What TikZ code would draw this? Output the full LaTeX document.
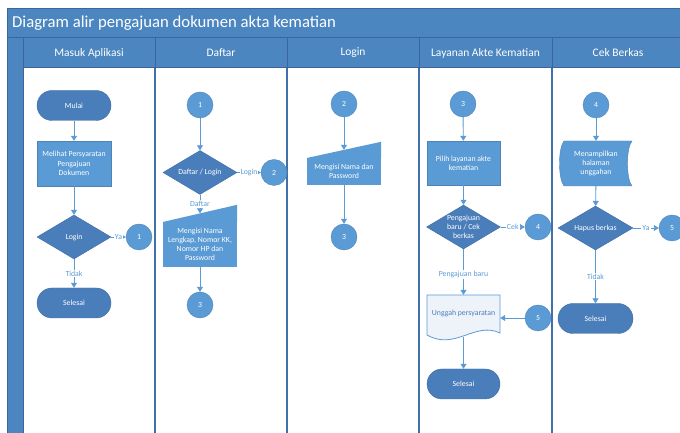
\documentclass[tikz,border=0pt]{standalone}
\usepackage{fontspec}
\setmainfont{Carlito}
\usetikzlibrary{arrows.meta,shapes.geometric}
\definecolor{hdr}{RGB}{76,134,192}
\definecolor{hdrline}{RGB}{58,102,156}
\definecolor{laneclr}{RGB}{66,112,170}
\definecolor{darkb}{RGB}{74,126,187}
\definecolor{lightb}{RGB}{91,155,213}
\definecolor{docfill}{RGB}{238,243,250}
\begin{document}
\begin{tikzpicture}[x=1pt,y=1pt,
  shapefont/.style={font=\fontsize{7.8}{9.2}\selectfont},
  term/.style={rectangle, rounded corners=15pt, fill=darkb, draw=darkb!85!black, line width=0.4pt,
    minimum width=74pt, minimum height=30pt, text=white, shapefont},
  proc/.style={rectangle, fill=lightb, draw=lightb!85!black, line width=0.4pt,
    minimum width=74pt, minimum height=45pt, text=white, align=center, shapefont, inner sep=2pt},
  manin/.style={proc, draw=none},
  dec/.style={diamond, fill=darkb, draw=darkb!85!black, line width=0.4pt,
    minimum width=74pt, minimum height=44pt, inner sep=0pt},
  dtext/.style={text=white, align=center, shapefont},
  conn/.style={circle, fill=lightb, draw=lightb!85!black, line width=0.4pt,
    minimum size=26pt, inner sep=0pt, text=white, shapefont},
  box/.style={rectangle, minimum width=74pt, inner sep=2pt, align=center, shapefont},
  arr/.style={draw=lightb, line width=0.9pt, -{Triangle[width=6pt,length=5pt]}},
  lbl/.style={fill=white, inner sep=1pt, text=lightb, font=\fontsize{7.8}{9}\selectfont},
  hdrtext/.style={text=white, font=\fontsize{11.5}{13}\selectfont},
  laneline/.style={draw=laneclr, line width=1.2pt}
]
\useasboundingbox (0,0) rectangle (680,433);
\clip (0,0) rectangle (680,433);
\fill[white] (0,0) rectangle (680,433);

% ---- swimlane frame ----
\foreach \x in {155,287,419,552} \draw[laneline] (\x,-5) -- (\x,365);
\fill[hdr] (7,-5) rectangle (23,395);
\fill[hdr] (7,395) rectangle (690,424);
\fill[hdr] (23,365) rectangle (690,395);
\draw[hdrline, line width=1pt] (7,-5) rectangle (690,424);
\draw[hdrline, line width=1pt] (7,395) -- (690,395);
\draw[hdrline, line width=1pt] (23,-5) -- (23,395);
\draw[hdrline, line width=1pt] (23,365) -- (690,365);
\foreach \x in {155,287,419,552} \draw[hdrline, line width=1pt] (\x,365) -- (\x,395);

\node[anchor=west, text=white, font=\fontsize{16.7}{19}\selectfont, inner sep=0pt] (title) at (12,410) {Diagram alir pengajuan dokumen akta kematian};
\node[hdrtext] (h1) at (89,380) {Masuk Aplikasi};
\node[hdrtext] (h2) at (221,380) {Daftar};
\node[hdrtext] (h3) at (353,380) {Login};
\node[hdrtext] (h4) at (485.5,380) {Layanan Akte Kematian};
\node[hdrtext] (h5) at (618,380) {Cek Berkas};

% ---- lane 1 ----
\node[term] (mulai) at (74,327.5) {Mulai};
\node[proc] (r1) at (74,269.5) {Melihat Persyaratan\\Pengajuan\\Dokumen};
\node[dec, label={[dtext]center:Login}] (d1) at (74,196) {};
\node[conn] (c1a) at (139,196) {1};
\node[term] (sel1) at (74,130) {Selesai};

% ---- lane 2 ----
\node[conn] (c1b) at (200,328) {1};
\node[dec, label={[dtext]center:Daftar / Login}] (d2) at (200,260.5) {};
\node[conn] (c2a) at (274,260.5) {2};
\node[manin] (mi1) at (200,188.5) {Mengisi Nama\\Lengkap, Nomor KK,\\Nomor HP dan\\Password};
\fill[lightb] ([yshift=-0.2pt]mi1.north west) -- ([yshift=17pt]mi1.north east) -- ([yshift=-0.2pt]mi1.north east) -- cycle;
\coordinate (mi1top) at ([yshift=8.5pt]mi1.north);
\node[conn] (c3a) at (200,128) {3};

% ---- lane 3 ----
\node[conn] (c2b) at (344,329) {2};
\node[manin, minimum height=27pt] (mi2) at (344,261.5) {Mengisi Nama dan\\Password};
\fill[lightb] ([yshift=-0.2pt]mi2.north west) -- ([yshift=16pt]mi2.north east) -- ([yshift=-0.2pt]mi2.north east) -- cycle;
\coordinate (mi2top) at ([yshift=8pt]mi2.north);
\node[conn] (c3b) at (344,196) {3};

% ---- lane 4 ----
\node[conn] (c3c) at (463,329) {3};
\node[proc, minimum width=73pt, minimum height=44pt] (r2) at (463.5,270) {Pilih layanan akte\\kematian};
\node[dec, label={[dtext]center:Pengajuan\\baru / Cek\\berkas}] (d3) at (463.5,206) {};
\node[conn] (c4a) at (538,206) {4};
\filldraw[fill=docfill, draw=lightb, line width=0.8pt] (427,138) -- (500,138) -- (500,100)
   .. controls (475,112) and (455,82) .. (427,98) -- cycle;
\node[box, minimum width=73pt, minimum height=36pt, text=darkb] (doc) at (463.5,120) {Unggah persyaratan};
\node[conn] (c5a) at (538,115) {5};
\node[term, minimum width=73pt] (sel2) at (463.5,49) {Selesai};

% ---- lane 5 ----
\node[conn] (c4b) at (596,328) {4};
\filldraw[fill=lightb, draw=lightb!85!black, line width=0.4pt] (564,292) -- (632,292)
   .. controls (626,285) and (626,254) .. (632,247) -- (564,247)
   .. controls (558,254) and (558,285) .. (564,292) -- cycle;
\node[box, minimum width=72pt, minimum height=45pt, text=white] (sd) at (596,269.5) {Menampilkan\\halaman\\unggahan};
\node[dec, minimum width=75pt, label={[dtext]center:Hapus berkas}] (d4) at (595.5,205) {};
\node[conn] (c5b) at (672,205) {5};
\node[term, minimum width=75pt] (sel3) at (595.5,114.5) {Selesai};

% ---- connectors ----
\draw[arr] (mulai) -- (r1);
\draw[arr] (r1) -- (d1);
\draw[arr] (d1) -- node[lbl]{Ya} (c1a);
\draw[arr] (d1) -- node[lbl]{Tidak} (sel1);

\draw[arr] (c1b) -- (d2);
\draw[arr] (d2) -- node[lbl]{Login} (c2a);
\draw[arr] (d2) -- node[lbl]{Daftar} (mi1top);
\draw[arr] (mi1) -- (c3a);

\draw[arr] (c2b) -- (mi2top);
\draw[arr] (mi2) -- (c3b);

\draw[arr] (c3c) -- (r2);
\draw[arr] (r2) -- (d3);
\draw[arr] (d3) -- node[lbl]{Cek} (c4a);
\draw[arr] (d3) -- node[lbl, pos=0.55]{Pengajuan baru} (doc);
\draw[arr] (c5a) -- (c5a -| doc.east);
\draw[arr] ([yshift=-6pt]doc.south) -- (sel2);

\draw[arr] (c4b) -- (sd);
\draw[arr] (sd) -- (d4);
\draw[arr] (d4) -- node[lbl]{Ya} (c5b);
\draw[arr] (d4) -- node[lbl]{Tidak} (sel3);
\end{tikzpicture}
\end{document}
